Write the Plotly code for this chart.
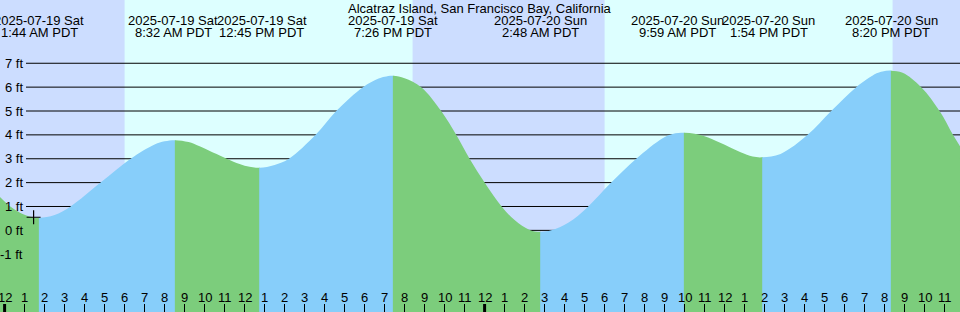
import plotly.graph_objects as go

# ---- data (hours since 2025-07-19 00:00 PDT, heights in feet) ----
tide_hours = [-0.25, 0.25, 0.75, 1.25, 1.733,
              2.5, 3.3, 4.8, 6.3, 7.5, 8.0, 8.533,
              9.2, 9.75, 11.1, 11.75, 12.25, 12.75,
              13.5, 14.22, 15.55, 16.58, 17.92, 18.7, 19.0, 19.433,
              20.0, 20.83, 21.83, 22.58, 23.25, 24.0, 24.85, 25.5, 26.25, 26.8,
              27.33, 28.2, 29.12, 30.33, 31.58, 32.9, 33.4, 33.983,
              34.5, 35.0, 35.75, 36.8, 37.4, 37.9,
              38.8, 40.15, 41.33, 42.58, 43.6, 43.9, 44.333,
              44.9, 45.83, 46.75, 47.42, 47.8]
tide_feet = [1.41, 1.02, 0.75, 0.58, 0.53,
             0.64, 1.0, 2.0, 3.0, 3.6, 3.73, 3.78,
             3.70, 3.52, 3.0, 2.78, 2.66, 2.62,
             2.74, 3.0, 4.0, 5.0, 6.0, 6.36, 6.44, 6.48,
             6.37, 6.0, 5.0, 4.0, 3.0, 2.0, 1.0, 0.43, 0.02, -0.06,
             0.0, 0.33, 0.95, 2.0, 3.0, 3.86, 4.04, 4.09,
             4.05, 3.94, 3.68, 3.27, 3.09, 3.06,
             3.2, 4.0, 5.0, 6.0, 6.58, 6.66, 6.69,
             6.6, 6.0, 5.0, 4.0, 3.48]

event_hours = [1.733, 8.533, 12.75, 19.433, 26.8, 33.983, 37.9, 44.333]
event_kind = ["low", "high", "low", "high", "low", "high", "low", "high"]
event_dates = ["2025-07-19 Sat", "2025-07-19 Sat", "2025-07-19 Sat", "2025-07-19 Sat",
               "2025-07-20 Sun", "2025-07-20 Sun", "2025-07-20 Sun", "2025-07-20 Sun"]
event_times = ["1:44 AM PDT", "8:32 AM PDT", "12:45 PM PDT", "7:26 PM PDT",
               "2:48 AM PDT", "9:59 AM PDT", "1:54 PM PDT", "8:20 PM PDT"]
event_label_dx = [0, -2, 2, 0, 0, -7, 6, 0]

day_start_hours = [6.0, 30.0]    # sunrise
day_end_hours = [20.4, 44.4]     # sunset

now_hour = [1.45]
now_feet = [0.55]

level_feet = [-1, 0, 1, 2, 3, 4, 5, 6, 7]
level_labels = ["-1 ft", "0 ft", "1 ft", "2 ft", "3 ft", "4 ft", "5 ft", "6 ft", "7 ft"]

hour_ticks = list(range(0, 49))
hour_labels = ["12", "1", "2", "3", "4", "5", "6", "7", "8", "9", "10", "11",
               "12", "1", "2", "3", "4", "5", "6", "7", "8", "9", "10", "11",
               "12", "1", "2", "3", "4", "5", "6", "7", "8", "9", "10", "11",
               "12", "1", "2", "3", "4", "5", "6", "7", "8", "9", "10", "11",
               "12"]
midnight_hours = [0, 24]

title_text = "Alcatraz Island, San Francisco Bay, California"

# ---- styling ----
X0, X1 = -0.23, 47.77
Y0, Y1 = -3.42, 9.65
W, H = 960, 312
NIGHT = "#CCDDFF"
DAY = "#DDFFFF"
RISING = "#87CEFA"
FALLING = "#7CCD7C"
FONT = dict(family="Liberation Sans, Arial, sans-serif", size=13, color="black")

fig = go.Figure()
layout_axes = {}

# intervals between tide extremes: rising (blue) / falling (green)
bounds = [X0] + event_hours + [X1]
intervals = []
for i in range(len(bounds) - 1):
    a, b = bounds[i], bounds[i + 1]
    if i < len(event_kind):
        color = RISING if event_kind[i] == "high" else FALLING
    else:
        color = FALLING if event_kind[-1] == "high" else RISING
    intervals.append((a, b, color))

eps = 0.02
n = 2
span = X1 - X0
for a, b, color in intervals:
    a2 = max(X0, a - eps)
    b2 = min(X1, b + eps)
    xa = "x%d" % n
    fig.add_trace(go.Scatter(x=[X0 - 1, X1 + 1], y=[Y0 - 5, Y0 - 5], mode="lines",
                             line=dict(width=0), xaxis=xa, yaxis="y",
                             hoverinfo="skip", showlegend=False))
    fig.add_trace(go.Scatter(x=tide_hours, y=tide_feet, mode="lines",
                             line=dict(width=0, shape="spline", color=color),
                             fill="tonexty", fillcolor=color, xaxis=xa, yaxis="y",
                             hoverinfo="skip", showlegend=False))
    layout_axes["xaxis%d" % n] = dict(domain=[(a2 - X0) / span, (b2 - X0) / span],
                                      range=[a2, b2], anchor="y", visible=False)
    n += 1

# last subplot: hour ticks and current-time marker (drawn on top)
tick_axis = "x%d" % n
fig.add_trace(go.Scatter(x=now_hour, y=now_feet, mode="markers",
                         marker=dict(symbol="cross-thin", size=10,
                                     line=dict(width=1.2, color="black")),
                         xaxis=tick_axis, yaxis="y", hoverinfo="skip", showlegend=False))
layout_axes["xaxis%d" % n] = dict(domain=[0, 1], range=[X0, X1], anchor="y",
                                  showgrid=False, zeroline=False, showline=False,
                                  showticklabels=False, ticks="inside", ticklen=8,
                                  tickwidth=1, tickcolor="black",
                                  tickmode="linear", tick0=0, dtick=1)

shapes = []
for s, e in zip(day_start_hours, day_end_hours):
    shapes.append(dict(type="rect", xref="x", yref="paper", x0=s, x1=e, y0=0, y1=1,
                       fillcolor=DAY, line=dict(width=0), layer="below"))
for lv in level_feet:
    shapes.append(dict(type="line", xref="paper", yref="y", x0=26 / W, x1=1,
                       y0=lv, y1=lv, line=dict(color="black", width=1), layer="below"))
for m in midnight_hours:
    shapes.append(dict(type="line", xref="x", yref="paper", x0=m, x1=m,
                       ysizemode="pixel", yanchor=0, y0=0, y1=8,
                       line=dict(color="black", width=3), layer="above"))

annotations = [dict(text=title_text, xref="paper", yref="paper", x=0.5, y=1,
                    xanchor="center", yanchor="middle", yshift=-8, showarrow=False,
                    font=FONT)]
for h, d, t, dx in zip(event_hours, event_dates, event_times, event_label_dx):
    annotations.append(dict(text=d, xref="x", yref="paper", x=h, y=1, xshift=dx,
                            yshift=-20, xanchor="center", yanchor="middle",
                            showarrow=False, font=FONT))
    annotations.append(dict(text=t, xref="x", yref="paper", x=h, y=1, xshift=dx,
                            yshift=-32, xanchor="center", yanchor="middle",
                            showarrow=False, font=FONT))
for lv, lab in zip(level_feet, level_labels):
    annotations.append(dict(text=lab, xref="paper", yref="y", x=25 / W, y=lv,
                            xanchor="right", yanchor="middle", showarrow=False,
                            font=FONT))
for h, lab in zip(hour_ticks, hour_labels):
    annotations.append(dict(text=lab, xref="x", yref="paper", x=h, y=0, yshift=14.5,
                            xanchor="center", yanchor="middle", showarrow=False,
                            font=FONT))

fig.update_layout(
    width=W, height=H, autosize=False,
    margin=dict(l=0, r=0, t=0, b=0, pad=0),
    paper_bgcolor=NIGHT, plot_bgcolor="rgba(0,0,0,0)",
    showlegend=False, font=FONT,
    xaxis=dict(domain=[0, 1], range=[X0, X1], visible=False, anchor="y"),
    yaxis=dict(domain=[0, 1], range=[Y0, Y1], visible=False, anchor="x"),
    shapes=shapes, annotations=annotations,
    **layout_axes,
)

fig.write_html("out.html", config=dict(displayModeBar=False, staticPlot=True))
